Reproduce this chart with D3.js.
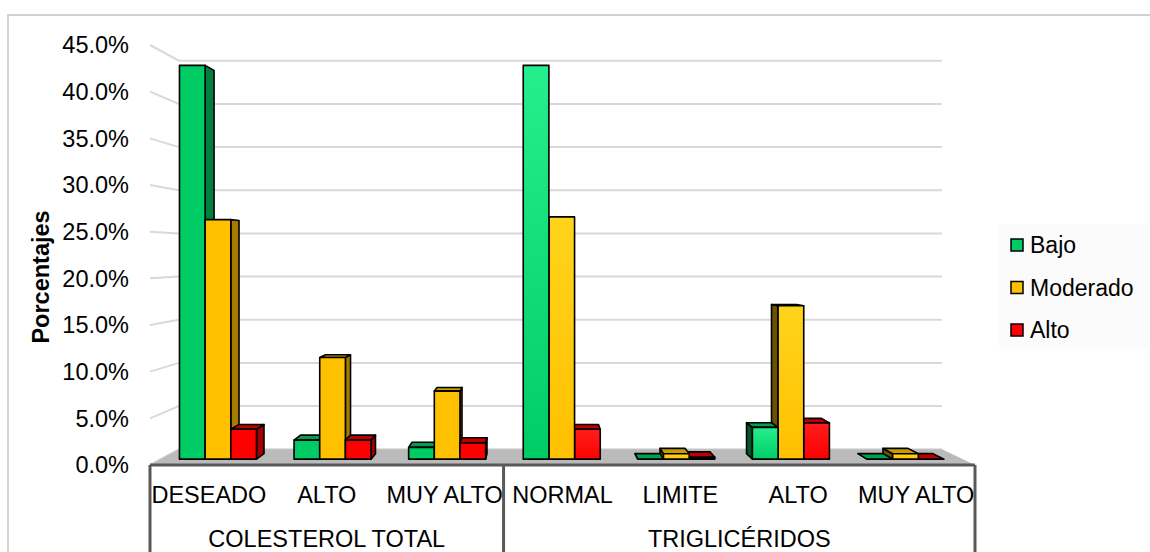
<!DOCTYPE html>
<html>
<head>
<meta charset="utf-8">
<script src="https://cdn.jsdelivr.net/npm/d3@7"></script>
<style>
  body { margin: 0; background: #ffffff; }
  svg { display: block; }
  text { font-family: "Liberation Sans", Arial, sans-serif; fill: #000; }
</style>
</head>
<body>
<svg id="chart" width="1150" height="552"></svg>
<script>
// ---- data ----
const categories = ["DESEADO", "ALTO", "MUY ALTO", "NORMAL", "LIMITE", "ALTO", "MUY ALTO"];
const groupLabels = ["COLESTEROL TOTAL", "TRIGLICÉRIDOS"];
const groupSizes = [3, 4];
const seriesNames = ["Bajo", "Moderado", "Alto"];
const bajo     = [43.4, 2.1, 1.3, 43.4, 0.0, 3.5, 0.0];
const moderado = [26.4, 11.2, 7.5, 26.7, 0.6, 16.9, 0.6];
const alto     = [3.3, 2.1, 1.8, 3.3, 0.2, 4.0, 0.0];
const yTicks = [0, 5, 10, 15, 20, 25, 30, 35, 40, 45];

const seriesValues = [bajo, moderado, alto];
const palette = {
  Bajo:     { front: "#00cc66", light: "#26ee8c", top: "#00a050", right: "#007f3f", left: "#005a2c" },
  Moderado: { front: "#ffc000", light: "#ffd41c", top: "#c89b00", right: "#a67c00", left: "#6b5100" },
  Alto:     { front: "#ff0000", light: "#ff1e1e", top: "#c00000", right: "#a40000", left: "#7a0000" }
};

const svg = d3.select("#chart");

// outer frame (top and left edges)
svg.append("path")
  .attr("d", "M8,552 V15 H1150")
  .attr("fill", "none")
  .attr("stroke", "#c4c4c4")
  .attr("stroke-width", 1.5);

// ---- scales ----
const x0 = d3.scaleBand().domain(d3.range(categories.length)).range([150, 975]);
const x1 = d3.scaleBand().domain(seriesNames).range([0, x0.bandwidth()]).paddingOuter(0.732);
const y = d3.scaleLinear().domain([0, 45]).range([465, 45]);
const depth = d3.scaleLinear().domain([0, 1]).range([1, 0.925]);
const VP = [535, 255];

// perspective projection of a front-plane point pushed back to depth t (0 = front, 1 = back wall)
function proj(px, py, t) {
  const f = depth(t);
  return [VP[0] + (px - VP[0]) * f, VP[1] + (py - VP[1]) * f];
}
const poly = pts => "M" + pts.map(p => p[0].toFixed(2) + "," + p[1].toFixed(2)).join("L") + "Z";

// ---- walls and gridlines ----
const grid = svg.append("g").attr("stroke", "#d9d9d9").attr("stroke-width", 2).attr("fill", "none");
yTicks.forEach(v => {
  const a = proj(150, y(v), 0), b = proj(150, y(v), 1), c = proj(975, y(v), 1);
  grid.append("path").attr("d", `M${a[0]},${a[1]}L${b[0]},${b[1]}L${c[0]},${c[1]}`);
});

// floor
svg.append("path")
  .attr("d", poly([proj(150, y(0), 0), proj(975, y(0), 0), proj(975, y(0), 1), proj(150, y(0), 1)]))
  .attr("fill", "#bababa");

// y tick labels
svg.append("g").selectAll("text").data(yTicks).join("text")
  .attr("x", 129)
  .attr("y", d => y(d))
  .attr("dy", "0.35em")
  .attr("text-anchor", "end")
  .attr("font-size", 23.5)
  .text(d => d.toFixed(1) + "%");

// y axis title
svg.append("text")
  .attr("transform", "translate(49,277) rotate(-90)")
  .attr("text-anchor", "middle")
  .attr("font-size", 23.5)
  .attr("font-weight", "bold")
  .text("Porcentajes");

// ---- gradients for the triglyceride bars ----
const defs = svg.append("defs");
seriesNames.forEach((s, k) => {
  const g = defs.append("linearGradient").attr("id", "grad" + k)
    .attr("x1", 0).attr("y1", 0).attr("x2", 0).attr("y2", 1);
  g.append("stop").attr("offset", "0%").attr("stop-color", palette[s].light);
  g.append("stop").attr("offset", "100%").attr("stop-color", palette[s].front);
});

// ---- 3D bars ----
const t1 = 0.37, t2 = 0.72;
const bars = [];
categories.forEach((c, i) => {
  seriesNames.forEach((s, k) => {
    const xl = x0(i) + x1(s), xr = xl + x1.bandwidth();
    bars.push({ i, k, s, v: seriesValues[k][i], xl, xr });
  });
});
bars.sort((a, b) => Math.abs((b.xl + b.xr) / 2 - VP[0]) - Math.abs((a.xl + a.xr) / 2 - VP[0]));

const barLayer = svg.append("g").attr("stroke", "#000").attr("stroke-width", 1.6).attr("stroke-linejoin", "round");
bars.forEach(b => {
  const yt = y(b.v), yb = y(0);
  const col = palette[b.s];
  const g = barLayer.append("g");
  if (b.xr < VP[0]) {
    g.append("path").attr("fill", col.right)
      .attr("d", poly([proj(b.xr, yt, t1), proj(b.xr, yt, t2), proj(b.xr, yb, t2), proj(b.xr, yb, t1)]));
  } else if (b.xl > VP[0]) {
    g.append("path").attr("fill", col.left)
      .attr("d", poly([proj(b.xl, yt, t1), proj(b.xl, yt, t2), proj(b.xl, yb, t2), proj(b.xl, yb, t1)]));
  }
  if (yt > VP[1]) {
    g.append("path").attr("fill", col.top)
      .attr("d", poly([proj(b.xl, yt, t1), proj(b.xr, yt, t1), proj(b.xr, yt, t2), proj(b.xl, yt, t2)]));
  }
  if (b.v > 0) {
    g.append("path").attr("fill", b.i >= groupSizes[0] ? `url(#grad${b.k})` : col.front)
      .attr("d", poly([proj(b.xl, yt, t1), proj(b.xr, yt, t1), proj(b.xr, yb, t1), proj(b.xl, yb, t1)]));
  }
});

// ---- category axis (two levels) ----
const axisLines = svg.append("g").attr("stroke", "#595959").attr("stroke-width", 3).attr("fill", "none");
axisLines.append("path").attr("d", `M150,${y(0)}H975`);
let start = 0;
const boundaries = [0];
groupSizes.forEach(n => { start += n; boundaries.push(start); });
boundaries.forEach(b => {
  const xx = b < categories.length ? x0(b) : x0(categories.length - 1) + x0.bandwidth();
  axisLines.append("path").attr("d", `M${xx},${y(0)}V552`);
});

svg.append("g").selectAll("text").data(categories).join("text")
  .attr("x", (d, i) => x0(i) + x0.bandwidth() / 2)
  .attr("y", 503)
  .attr("text-anchor", "middle")
  .attr("font-size", 23.5)
  .text(d => d);

svg.append("g").selectAll("text").data(groupLabels).join("text")
  .attr("x", (d, j) => {
    const a = x0(boundaries[j]);
    const e = boundaries[j + 1] < categories.length ? x0(boundaries[j + 1]) : x0(categories.length - 1) + x0.bandwidth();
    return (a + e) / 2;
  })
  .attr("y", 547)
  .attr("text-anchor", "middle")
  .attr("font-size", 23.5)
  .text(d => d);

// ---- legend ----
svg.append("rect").attr("x", 999).attr("y", 224).attr("width", 149).attr("height", 125).attr("fill", "#fbfbfb");
const legend = svg.append("g").selectAll("g").data(seriesNames).join("g")
  .attr("transform", (d, k) => `translate(1011,${239 + k * 42.5})`);
legend.append("rect")
  .attr("width", 12).attr("height", 12)
  .attr("fill", d => palette[d].front)
  .attr("stroke", "#000").attr("stroke-width", 1.5);
legend.append("text")
  .attr("x", 19).attr("y", 14)
  .attr("font-size", 23)
  .text(d => d);
</script>
</body>
</html>
